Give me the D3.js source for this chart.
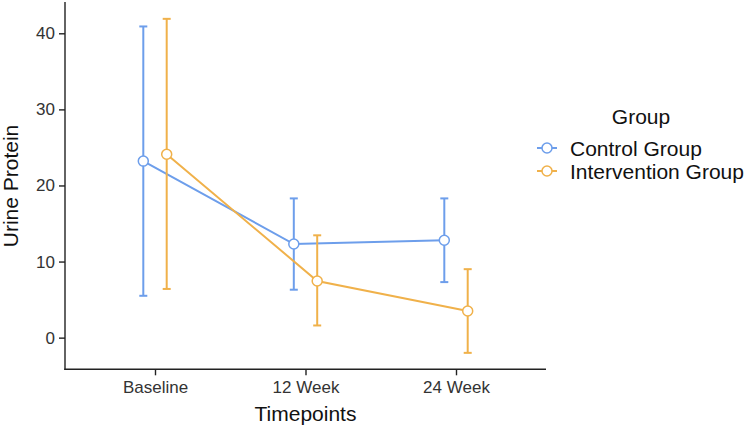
<!DOCTYPE html>
<html><head><meta charset="utf-8">
<script src="https://cdn.jsdelivr.net/npm/d3@7"></script>
<style>body{margin:0;background:#fff}svg{display:block}</style>
</head><body>
<script>
const timepoints = ["Baseline", "12 Week", "24 Week"];
const groups = ["Control Group", "Intervention Group"];
const controlMean = [23.2, 12.3, 12.8];
const controlLower = [5.5, 6.3, 7.3];
const controlUpper = [40.9, 18.3, 18.3];
const interventionMean = [24.1, 7.45, 3.5];
const interventionLower = [6.4, 1.6, -2.0];
const interventionUpper = [41.9, 13.45, 9.0];
const yTicks = [0, 10, 20, 30, 40];
const colors = ["#6D9EEB", "#F0B14A"];

const W = 749, H = 436;
const svg = d3.select("body").append("svg").attr("width", W).attr("height", H);
const font = "Liberation Sans, Arial, sans-serif";

const x = d3.scalePoint().domain(timepoints).range([155, 456]);
const y = d3.scaleLinear().domain([-4.2, 44.1]).range([369.6, 2.1]);
const dodge = d3.scalePoint().domain(groups).range([-11.7, 11.7]);

const series = [
  {name: groups[0], mean: controlMean, lo: controlLower, hi: controlUpper, color: colors[0]},
  {name: groups[1], mean: interventionMean, lo: interventionLower, hi: interventionUpper, color: colors[1]}
];

// axes
const yAxis = svg.append("g").attr("transform", "translate(65,0)")
  .call(d3.axisLeft(y).tickValues(yTicks).tickSize(6).tickPadding(4));
const xAxis = svg.append("g").attr("transform", "translate(0,369.3)")
  .call(d3.axisBottom(x).tickSize(6).tickPadding(6));
[yAxis, xAxis].forEach(g => {
  g.select(".domain").remove();
  g.selectAll("line").attr("stroke", "#222").attr("stroke-width", 1.4);
  g.selectAll("text").attr("fill", "#333").style("font-family", font).style("font-size", "17px");
});
svg.append("line").attr("x1", 65).attr("x2", 65).attr("y1", 2.1).attr("y2", 370).attr("stroke", "#222").attr("stroke-width", 1.4);
svg.append("line").attr("x1", 64.3).attr("x2", 546).attr("y1", 369.3).attr("y2", 369.3).attr("stroke", "#222").attr("stroke-width", 1.4);

// axis titles
svg.append("text").attr("x", 305.5).attr("y", 421).attr("text-anchor", "middle")
  .style("font-family", font).style("font-size", "21px").attr("fill", "#111").text("Timepoints");
svg.append("text").attr("transform", "translate(18,186) rotate(-90)").attr("text-anchor", "middle")
  .style("font-family", font).style("font-size", "21px").attr("fill", "#111").text("Urine Protein");

// series
series.forEach(s => {
  const g = svg.append("g");
  const px = i => x(timepoints[i]) + dodge(s.name);
  const line = d3.line().x((d, i) => px(i)).y(d => y(d));
  g.append("path").datum(s.mean).attr("d", line).attr("fill", "none")
    .attr("stroke", s.color).attr("stroke-width", 2);
  timepoints.forEach((t, i) => {
    const cx = px(i);
    g.append("line").attr("x1", cx).attr("x2", cx).attr("y1", y(s.lo[i])).attr("y2", y(s.hi[i]))
      .attr("stroke", s.color).attr("stroke-width", 2);
    [s.lo[i], s.hi[i]].forEach(v => {
      g.append("line").attr("x1", cx - 4).attr("x2", cx + 4).attr("y1", y(v)).attr("y2", y(v))
        .attr("stroke", s.color).attr("stroke-width", 2);
    });
  });
  g.selectAll("circle").data(s.mean).join("circle")
    .attr("cx", (d, i) => px(i)).attr("cy", d => y(d)).attr("r", 5)
    .attr("fill", "#fff").attr("stroke", s.color).attr("stroke-width", 1.5);
});

// legend
const leg = svg.append("g");
leg.append("text").attr("x", 641).attr("y", 124).attr("text-anchor", "middle")
  .style("font-family", font).style("font-size", "21px").attr("fill", "#111").text("Group");
series.forEach((s, i) => {
  const cy = 148 + i * 23;
  leg.append("line").attr("x1", 537).attr("x2", 557).attr("y1", cy).attr("y2", cy)
    .attr("stroke", s.color).attr("stroke-width", 2);
  leg.append("circle").attr("cx", 547).attr("cy", cy).attr("r", 5)
    .attr("fill", "#fff").attr("stroke", s.color).attr("stroke-width", 1.5);
  leg.append("text").attr("x", 570).attr("y", cy + 7.5)
    .style("font-family", font).style("font-size", "21px").attr("fill", "#111").text(s.name);
});
</script>
</body></html>
